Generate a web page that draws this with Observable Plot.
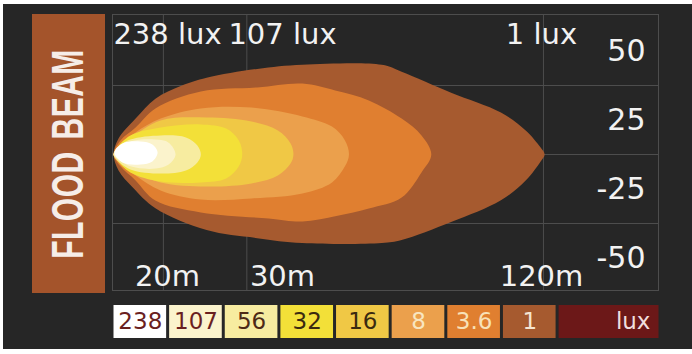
<!DOCTYPE html>
<html>
<head>
<meta charset="utf-8">
<script src="https://cdn.jsdelivr.net/npm/d3@7"></script>
<script src="https://cdn.jsdelivr.net/npm/@observablehq/plot@0.6"></script>
<style>
  html, body { margin: 0; padding: 0; background: #ffffff; width: 692px; height: 354px; overflow: hidden; }
  #panel { position: absolute; left: 3px; top: 4px; width: 689px; height: 345px; background: #262626; }
  #strip { position: absolute; left: 32px; top: 14px; width: 73px; height: 279px; background: #a4542b; overflow: hidden; }
  #strip span { position: absolute; left: 50%; top: 50%; white-space: nowrap; line-height: 1;
    font-family: "Liberation Sans", Arial, sans-serif; font-weight: bold; font-size: 30px; color: #f6ede8;
    letter-spacing: 0.5px; word-spacing: 3px;
    transform: translate(-50%, -50%) translateX(-1px) rotate(-90deg) scale(1, 1.45); }
  #chart { position: absolute; left: 0; top: 0; }
  #legend { position: absolute; left: 0; top: 300px; }
</style>
</head>
<body>
<div id="panel"></div>
<div id="strip"><span>FLOOD BEAM</span></div>
<div id="chart"></div>
<div id="legend"></div>
<script>
// ---- data ----
const distances = [20, 30, 120];            // m
const luxAtDistance = [238, 107, 1];        // lux
const yLabels = [50, 25, -25, -50];
const gridX = [18.5, 26.9, 120.5];          // m
const gridY = [25, 0, -25];
const luxLevels = ["238", "107", "56", "32", "16", "8", "3.6", "1"];
const legendLabels = [...luxLevels, "lux"];

// iso-lux contours: [distance m, lateral]
const beam_1 = [[0.4,0],[2.2,5.8],[8.4,13.0],[15.6,20.2],[21.2,24.9],[23.4,27.8],[27.8,31.0],[36.9,32.5],[64.5,32.5],[71.4,30.0],[88.6,22.4],[105.9,15.2],[114.5,8.7],[119.7,2.5],[120.8,0],[119.7,-2.5],[114.5,-9.4],[105.9,-16.6],[88.6,-24.5],[71.4,-31.0],[64.5,-32.1],[36.9,-32.1],[27.8,-30.3],[23.4,-27.4],[15.6,-19.5],[7.3,-11.9],[2.2,-5.8]];
const beam_3_6 = [[0.4,0],[2.9,5.1],[8.4,9.8],[15.6,16.7],[22.9,22.8],[27.8,24.3],[36.9,25.7],[48.3,23.2],[60.0,19.6],[71.4,13.0],[78.3,6.9],[81.7,0],[78.3,-6.5],[71.4,-15.6],[60.0,-19.6],[48.3,-22.4],[36.9,-24.3],[28.8,-23.2],[22.9,-21.0],[15.6,-16.7],[8.4,-9.4],[2.9,-4.3]];
const beam_8 = [[0.4,0],[2.2,2.9],[8.4,8.0],[17.5,13.0],[22.9,16.7],[27.3,17.0],[36.9,13.8],[47.2,10.1],[51.7,5.1],[53.1,0],[51.7,-4.3],[47.2,-10.1],[36.9,-14.1],[27.3,-15.9],[22.9,-16.3],[17.5,-13.0],[8.4,-7.6],[2.2,-2.9]];
const beam_16 = [[0.4,0],[1.45,1.4],[6.5,5.8],[17.5,12.3],[23.4,13.4],[27.3,12.0],[29.6,8.7],[32.8,4.0],[33.8,0],[32.8,-3.3],[29.6,-7.6],[27.3,-10.5],[23.4,-11.6],[17.5,-10.1],[6.5,-5.8],[1.45,-1.4]];
const beam_32 = [[0.4,0],[1.45,2.2],[6.5,6.9],[17.5,9.8],[22.9,10.9],[25.1,9.4],[26.2,5.1],[26.5,0],[26.2,-4.3],[25.1,-8.7],[22.9,-10.1],[17.5,-9.8],[6.5,-6.5],[1.45,-1.8]];
const beam_56 = [[0.4,0],[1.45,2.2],[6.5,5.4],[17.5,6.9],[21.6,6.2],[22.6,3.3],[22.9,0],[22.6,-2.9],[21.6,-5.8],[17.5,-6.9],[6.5,-5.4],[1.45,-1.8]];
const beam_107 = [[0.4,0],[1.45,1.4],[6.5,4.7],[15.6,5.4],[20.1,4.3],[20.7,0],[20.1,-3.6],[15.6,-5.1],[6.5,-4.3],[1.45,-1.1]];
const beam_238 = [[0.7,0.7],[3.6,4.0],[10.2,4.7],[14.5,3.6],[16.4,0.7],[14.5,-2.5],[10.2,-3.6],[3.6,-2.9]];

// ---- styles ----
const levelFill = ["#ffffff", "#fbf3cc", "#f7eca0", "#f3e038", "#f0c845", "#eba04c", "#e07f30", "#a65a2f", "#6c1818"];
const legendText = ["#6a1f1f", "#6a1f1f", "#4d2a16", "#3b2a10", "#3b2a10", "#f8e6c0", "#f8e2b8", "#f5e5d2", "#f0dede"];
const gridColor = "#4d4d4d";
const font = "DejaVu Sans, sans-serif";

const beams = [beam_1, beam_3_6, beam_8, beam_16, beam_32, beam_56, beam_107, beam_238];
const beamFills = [7, 6, 5, 4, 3, 2, 1, 0].map(i => levelFill[i]);

const chart = Plot.plot({
  width: 692, height: 300,
  marginLeft: 112, marginRight: 34, marginTop: 14, marginBottom: 10,
  style: {background: "transparent", color: "#f2f2f2", overflow: "visible"},
  x: {type: "linear", domain: [0, 20, 30, 120, 150], range: [112, 167, 282, 541, 658], axis: null},
  y: {domain: [-50, 50], range: [292, 16], axis: null},
  marks: [
    Plot.ruleX(gridX, {stroke: gridColor, strokeWidth: 1}),
    Plot.ruleY(gridY, {stroke: gridColor, strokeWidth: 1}),
    Plot.frame({stroke: gridColor, strokeWidth: 1}),
    ...beams.map((b, k) => Plot.line(b, {
      x: d => d[0], y: d => d[1], curve: "catmull-rom-closed",
      fill: beamFills[k], stroke: "none"
    })),
    Plot.text(distances, {
      x: d => d, text: (d, i) => `${luxAtDistance[i]} lux`,
      frameAnchor: "top", dy: 20, lineAnchor: "middle",
      fontSize: 29, fontFamily: font, fill: "#f2f2f2"
    }),
    Plot.text(distances, {
      x: d => d, text: d => `${d}m`,
      frameAnchor: "bottom", dy: -14, lineAnchor: "middle",
      fontSize: 29, fontFamily: font, fill: "#f2f2f2"
    }),
    Plot.text(yLabels, {
      y: v => v - Math.sign(v) * 12.5, text: v => String(v),
      frameAnchor: "right", dx: -13, textAnchor: "end", lineAnchor: "middle",
      fontSize: 30, fontFamily: font, fill: "#f2f2f2"
    })
  ]
});
document.getElementById("chart").append(chart);

const nL = legendLabels.length;
const legendEnd = nL - 1 + 1.85;
const legend = Plot.plot({
  width: 692, height: 54, margin: 0,
  style: {background: "transparent", overflow: "visible"},
  x: {domain: [0, legendEnd], range: [112, 660], axis: null},
  y: {domain: [0, 1], range: [38, 5], axis: null},
  color: {type: "identity"},
  marks: [
    Plot.rect(legendLabels, {
      x1: (d, i) => i, x2: (d, i) => (i === nL - 1 ? legendEnd : i + 1),
      y1: 0, y2: 1, fill: (d, i) => levelFill[i], insetLeft: 1.5, insetRight: 1.5
    }),
    Plot.text(legendLabels.slice(0, -1), {
      x: (d, i) => i + 0.5, y: 0.5, text: d => d,
      fill: (d, i) => legendText[i], fontSize: 23, fontFamily: font, lineAnchor: "middle"
    }),
    Plot.text(legendLabels.slice(-1), {
      x: () => legendEnd, y: 0.5, text: d => d, textAnchor: "end", dx: -10,
      fill: legendText[nL - 1], fontSize: 23, fontFamily: font, lineAnchor: "middle"
    })
  ]
});
document.getElementById("legend").append(legend);
</script>
</body>
</html>
